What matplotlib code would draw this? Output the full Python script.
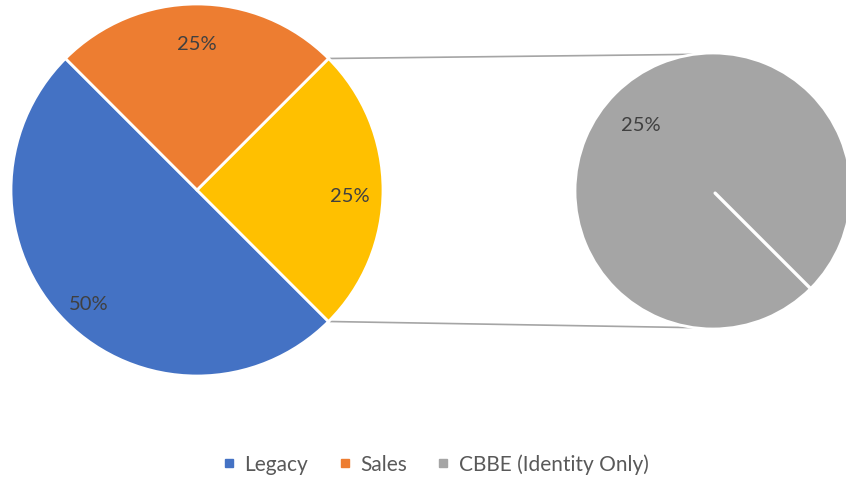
import numpy as np
import matplotlib
matplotlib.use("Agg")
import matplotlib.pyplot as plt
from matplotlib.lines import Line2D

# Data
categories = ["Legacy", "Sales", "CBBE (Identity Only)"]
values = [50, 25, 25]
colors = ["#4472C4", "#ED7D31", "#A5A5A5"]
other_color = "#FFC000"

plt.rcParams['font.family'] = ['Lato', 'DejaVu Sans']

W, H = 846, 481
fig = plt.figure(figsize=(W / 100, H / 100), dpi=100)
ax = fig.add_axes([0, 0, 1, 1])

total = sum(values)
main_c = (197, 290)
main_r = 186
sec_c = (713, 289)
sec_r = 138

# Main pie: Legacy, Other(=CBBE aggregate), Sales counterclockwise starting at 135 deg
main_vals = [values[0], values[2], values[1]]
main_cols = [colors[0], other_color, colors[1]]
wedges, texts, autotexts = ax.pie(
    main_vals, colors=main_cols, startangle=135, counterclock=True,
    center=main_c, radius=main_r, frame=True,
    autopct=lambda p: f"{p:.0f}%", pctdistance=0.82,
    wedgeprops=dict(edgecolor='white', linewidth=2.0),
    textprops=dict(color='#404040', fontsize=14.5))

# Secondary pie: CBBE alone (100% of the split), label as share of total
sec_vals = [values[2]]
w2, t2, a2 = ax.pie(
    sec_vals, colors=[colors[2]], startangle=-45, counterclock=True,
    center=sec_c, radius=sec_r, frame=True,
    autopct=lambda p: f"{values[2] / total * 100:.0f}%", pctdistance=0.74,
    wedgeprops=dict(edgecolor='white', linewidth=2.0),
    textprops=dict(color='#404040', fontsize=14.5))

# nudge labels slightly (Excel label placement)
for t in list(autotexts) + list(a2):
    x, y = t.get_position()
    t.set_position((x, y - 6))

# radial edge of the single slice
ang = np.radians(-45)
ax.plot([sec_c[0] + 3 * np.cos(ang), sec_c[0] + (sec_r + 2) * np.cos(ang)],
        [sec_c[1] + 3 * np.sin(ang), sec_c[1] + (sec_r + 2) * np.sin(ang)],
        color='white', lw=2.4, solid_capstyle='round', zorder=5)

ax.set_xlim(0, W)
ax.set_ylim(0, H)
ax.set_aspect('equal')
ax.axis('off')

# Connector lines
for a_main, a_sec in [(45, 98), (-45, -98)]:
    x0 = main_c[0] + main_r * np.cos(np.radians(a_main))
    y0 = main_c[1] + main_r * np.sin(np.radians(a_main))
    x1 = sec_c[0] + sec_r * np.cos(np.radians(a_sec))
    y1 = sec_c[1] + sec_r * np.sin(np.radians(a_sec))
    ax.plot([x0 + 2, x1], [y0, y1], color='#A5A5A5', lw=1.2, zorder=0)

handles = [Line2D([], [], marker='s', linestyle='none', markersize=6,
                  markerfacecolor=c, markeredgecolor=c) for c in colors]
fig.legend(handles, categories, loc='center', bbox_to_anchor=(0.515, 0.033),
           ncol=3, frameon=False, handlelength=0.6, handletextpad=0.45,
           columnspacing=1.45, prop=dict(size=15), labelcolor='#595959')

fig.savefig("out.png", dpi=100)
